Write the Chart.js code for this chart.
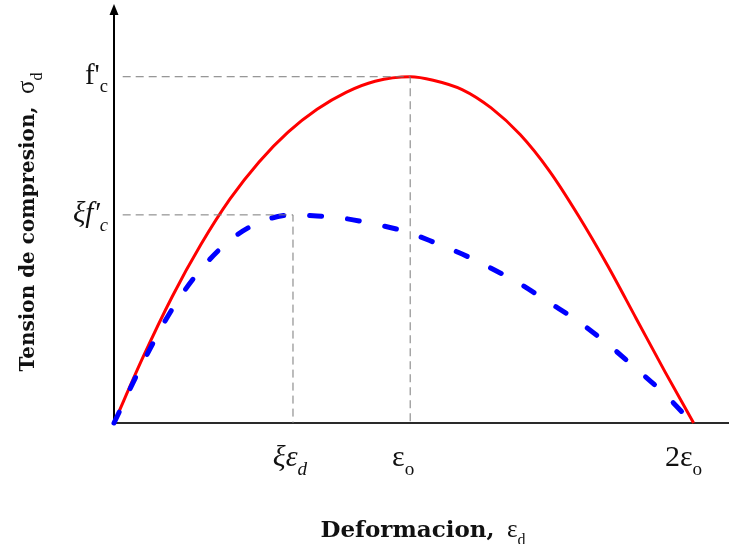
<!DOCTYPE html>
<html>
<head>
<meta charset="utf-8">
<script src="https://cdn.jsdelivr.net/npm/chart.js@4/dist/chart.umd.min.js"></script>
<style>
  html, body { margin: 0; padding: 0; background: #fff; }
  #wrap { width: 729px; height: 544px; }
</style>
</head>
<body>
<div id="wrap"><canvas id="chart" width="729" height="544"></canvas></div>
<script>
// strain in units of eps_o, stress in units of f'c

// unconfined parabola (solid red)
const strainParabola = [0, 0.1, 0.2, 0.3, 0.4, 0.5, 0.6, 0.7, 0.8, 0.9, 1.021,
  1.1, 1.2, 1.3, 1.4, 1.5, 1.6, 1.7, 1.8, 1.9, 1.998];
const stressParabola = [0, 0.19, 0.364, 0.516, 0.647, 0.754, 0.84, 0.906, 0.955, 0.987, 1.0,
  0.99, 0.963, 0.91, 0.833, 0.729, 0.6, 0.457, 0.302, 0.147, 0];

// softened curve (dashed blue)
const strainSoftened = [0, 0.1, 0.2, 0.3, 0.4, 0.5, 0.617, 0.7, 0.8, 0.9, 1.0,
  1.1, 1.2, 1.3, 1.4, 1.5, 1.6, 1.7, 1.8, 1.9, 1.994];
const stressSoftened = [0, 0.175, 0.328, 0.444, 0.528, 0.579, 0.601, 0.598, 0.59, 0.574, 0.554,
  0.523, 0.488, 0.447, 0.402, 0.348, 0.294, 0.229, 0.157, 0.082, 0];

// peaks the guide lines run to
const peakStrain = [1.021, 0.617];
const peakStress = [1.0, 0.601];

const xTickValues = [0.617, 1.021, 1.998];
const xTickLabels = ['ξε_d', 'ε_o', '2ε_o'];
const yTickValues = [1.0, 0.601];
const yTickLabels = ["f'_c", 'ξf′_c'];

const xTitle = ['Deformacion,', '  ε_d'];
const yTitle = ['Tension de compresion,', '  σ_d'];

const SERIF = '"Liberation Serif", "Times New Roman", serif';
const BOLD_SERIF = '"DejaVu Serif", serif';
const italicLabels = ['ξε_d', 'ξf′_c'];

const toPoints = (xs, ys) => xs.map((x, i) => ({ x, y: ys[i] }));

const guides = peakStrain.map((x, i) => ({
  data: [{ x: 0.03, y: peakStress[i] }, { x, y: peakStress[i] }, { x, y: 0 }],
  borderColor: '#7a7a7a', borderWidth: 1, borderDash: [8, 5],
  pointRadius: 0, tension: 0, clip: false,
}));

// split "ε_o" into runs, '_' marks a one-char subscript
function runs(text) {
  const out = [];
  for (let i = 0; i < text.length; i++) {
    if (text[i] === '_') { out.push({ t: text[i + 1], sub: true }); i++; }
    else if (out.length && !out[out.length - 1].sub) out[out.length - 1].t += text[i];
    else out.push({ t: text[i], sub: false });
  }
  return out;
}

function drawPieces(ctx, pieces, x, y, align) {
  const parts = [];
  pieces.forEach(pc => {
    runs(pc.text).forEach(r => {
      const size = r.sub ? pc.size * 0.64 : pc.size;
      const font = `${pc.italic ? 'italic ' : ''}${pc.bold ? 'bold ' : ''}${size}px ${pc.family}`;
      ctx.font = font;
      parts.push({ t: r.t, font, w: ctx.measureText(r.t).width, dy: r.sub ? pc.size * 0.3 : 0 });
    });
  });
  const total = parts.reduce((a, p) => a + p.w, 0);
  let cx = align === 'right' ? x - total : align === 'center' ? x - total / 2 : x;
  ctx.textAlign = 'left';
  ctx.textBaseline = 'alphabetic';
  parts.forEach(p => {
    ctx.font = p.font;
    ctx.fillText(p.t, cx, y + p.dy);
    cx += p.w;
  });
}

const axesPlugin = {
  id: 'axes',
  beforeDatasetsDraw(chart) {
    const { ctx, chartArea, scales: { x, y } } = chart;
    const x0 = x.getPixelForValue(0), y0 = y.getPixelForValue(0);
    ctx.save();
    ctx.strokeStyle = '#2a2a2a';
    ctx.lineWidth = 2;
    ctx.beginPath();
    ctx.moveTo(x0 - 1, y0);
    ctx.lineTo(chartArea.right, y0);
    ctx.stroke();
    ctx.strokeStyle = '#000';
    ctx.beginPath();
    ctx.moveTo(x0, y0 + 1);
    ctx.lineTo(x0, chartArea.top + 8);
    ctx.stroke();
    // arrow head on the stress axis
    ctx.fillStyle = '#000';
    ctx.beginPath();
    ctx.moveTo(x0, chartArea.top);
    ctx.lineTo(x0 - 4.5, chartArea.top + 11);
    ctx.lineTo(x0 + 4.5, chartArea.top + 11);
    ctx.closePath();
    ctx.fill();
    ctx.restore();
  },
  afterDraw(chart) {
    const { ctx, scales: { x, y } } = chart;
    const x0 = x.getPixelForValue(0), y0 = y.getPixelForValue(0);
    ctx.save();
    ctx.fillStyle = '#111';
    const xShift = [-3, -7, -10];
    xTickLabels.forEach((lab, i) => {
      drawPieces(ctx, [{ text: lab, size: 30, family: SERIF, italic: italicLabels.includes(lab) }],
        x.getPixelForValue(xTickValues[i]) + xShift[i], y0 + 43, 'center');
    });
    yTickLabels.forEach((lab, i) => {
      drawPieces(ctx, [{ text: lab, size: 29, family: SERIF, italic: italicLabels.includes(lab) }],
        x0 - 6, y.getPixelForValue(yTickValues[i]) + 7, 'right');
    });
    drawPieces(ctx, [
      { text: xTitle[0], size: 23, family: BOLD_SERIF, bold: true },
      { text: xTitle[1], size: 25, family: SERIF },
    ], 423, 537, 'center');
    ctx.translate(34, 222);
    ctx.rotate(-Math.PI / 2);
    drawPieces(ctx, [
      { text: yTitle[0], size: 20, family: BOLD_SERIF, bold: true },
      { text: yTitle[1], size: 25, family: SERIF },
    ], 0, 0, 'center');
    ctx.restore();
  },
};

new Chart(document.getElementById('chart'), {
  type: 'line',
  data: {
    datasets: [
      ...guides,
      {
        data: toPoints(strainSoftened, stressSoftened),
        borderColor: '#0000ff', borderWidth: 5, borderDash: [12, 26], borderCapStyle: 'round',
        pointRadius: 0, cubicInterpolationMode: 'monotone', clip: false,
      },
      {
        data: toPoints(strainParabola, stressParabola),
        borderColor: '#ff0000', borderWidth: 3,
        pointRadius: 0, cubicInterpolationMode: 'monotone', clip: false,
      },
    ],
  },
  options: {
    responsive: false,
    animation: false,
    layout: { padding: { left: 114, right: 0, top: 4, bottom: 121 } },
    plugins: { legend: { display: false }, tooltip: { enabled: false } },
    scales: {
      x: { type: 'linear', min: 0, max: 2.12, display: false },
      y: { type: 'linear', min: 0, max: 1.21, display: false },
    },
  },
  plugins: [axesPlugin],
});
</script>
</body>
</html>
